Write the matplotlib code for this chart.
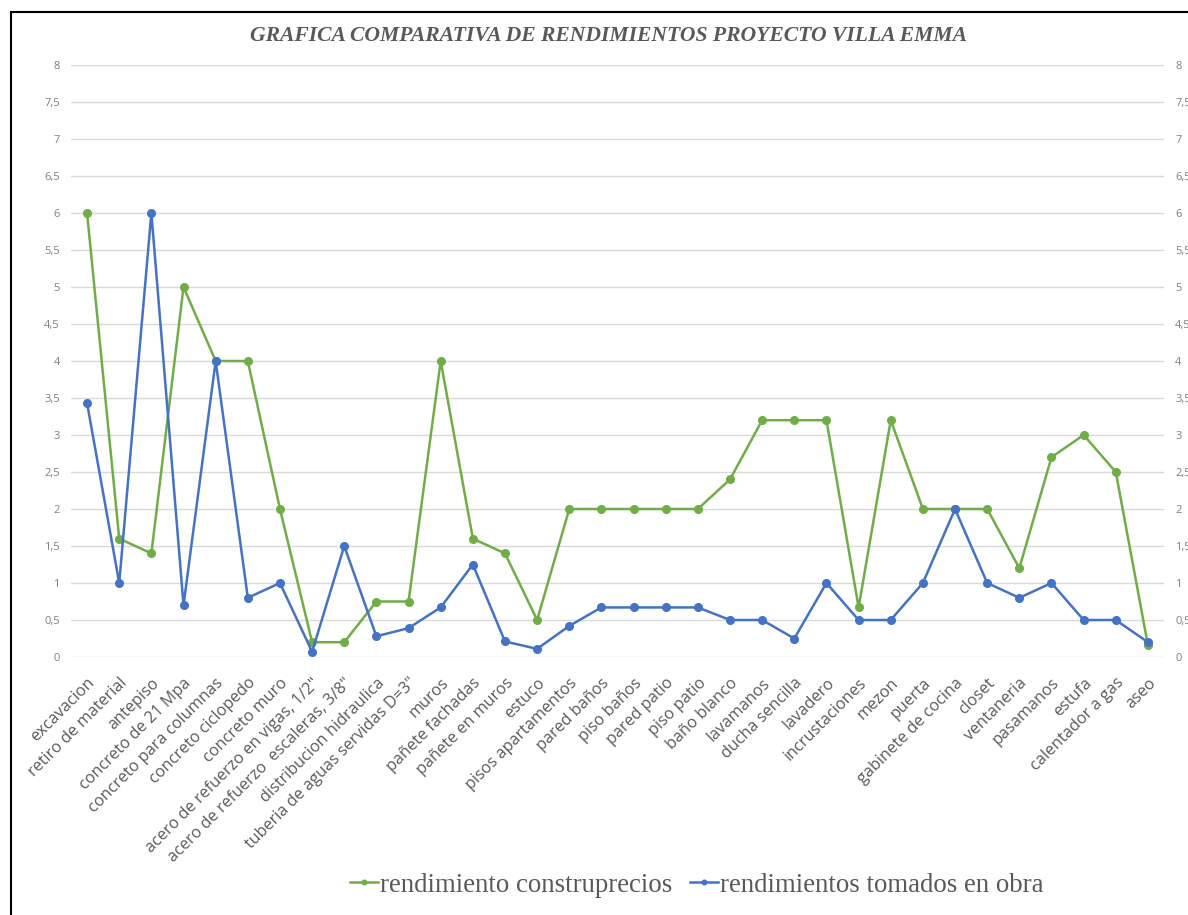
import matplotlib.pyplot as plt
from matplotlib.patches import Rectangle
from matplotlib.ticker import FuncFormatter, MultipleLocator
import numpy as np

actividades = [
    'excavacion', 'retiro de material', 'antepiso', 'concreto de 21 Mpa',
    'concreto para columnas', 'concreto ciclopedo', 'concreto muro',
    'acero de refuerzo en vigas, 1/2"', 'acero de refuerzo  escaleras, 3/8"',
    'distribucion hidraulica', 'tuberia de aguas servidas D=3"', 'muros',
    'pañete fachadas', 'pañete en muros', 'estuco', 'pisos apartamentos',
    'pared baños', 'piso baños', 'pared patio', 'piso patio', 'baño blanco',
    'lavamanos', 'ducha sencilla', 'lavadero', 'incrustaciones', 'mezon',
    'puerta', 'gabinete de cocina', 'closet', 'ventaneria', 'pasamanos',
    'estufa', 'calentador a gas', 'aseo',
]

rend_construprecios = [
    6, 1.6, 1.4, 5, 4, 4, 2, 0.2, 0.2, 0.75, 0.75, 4, 1.6, 1.4, 0.5, 2,
    2, 2, 2, 2, 2.4, 3.2, 3.2, 3.2, 0.67, 3.2, 2, 2, 2, 1.2, 2.7, 3, 2.5, 0.16,
]

rend_obra = [
    3.43, 1, 6, 0.7, 4, 0.8, 1, 0.07, 1.5, 0.28, 0.39, 0.67, 1.25, 0.21, 0.11,
    0.42, 0.67, 0.67, 0.67, 0.67, 0.5, 0.5, 0.25, 1, 0.5, 0.5, 1, 2, 1, 0.8,
    1, 0.5, 0.5, 0.2,
]

verde = '#70AD47'
azul = '#4472C4'
W, H = 1188, 915

fig = plt.figure(figsize=(W / 100, H / 100), dpi=100)
fig.patch.set_facecolor('white')

# marco negro del grafico (se sale por la derecha y por abajo)
fig.patches.append(Rectangle((10.5 / W, -0.1), 1.2, 1.1 - 12.5 / H,
                             transform=fig.transFigure, fill=False,
                             edgecolor='black', linewidth=1.5))

ax = fig.add_axes([71 / W, (H - 657) / H, (1164 - 71) / W, (657 - 65) / H])
x = np.arange(len(actividades))

ax.plot(x, rend_construprecios, color=verde, lw=1.8, marker='o', ms=5.5,
        label='rendimiento construprecios', zorder=3)
ax.plot(x, rend_obra, color=azul, lw=1.8, marker='o', ms=5.5,
        label='rendimientos tomados en obra', zorder=3)

ax.set_xlim(-0.5, len(actividades) - 0.5)
ax.set_ylim(0, 8)
ax.yaxis.set_major_locator(MultipleLocator(0.5))
coma = FuncFormatter(lambda v, p: ('%g' % v).replace('.', ','))
ax.yaxis.set_major_formatter(coma)
ax.grid(axis='y', color='#D9D9D9', lw=1)
ax.set_axisbelow(True)
for s in ax.spines.values():
    s.set_visible(False)

ax.set_xticks(x)
ax.set_xticklabels(actividades, rotation=45, ha='right', rotation_mode='anchor',
                   fontsize=11.7, color='#595959', family='Open Sans')
ax.tick_params(axis='x', length=0, pad=13)
ax.tick_params(axis='y', length=0, pad=8, labelsize=8, labelcolor='#7F7F7F')
for t in ax.get_yticklabels():
    t.set_family('Open Sans')

# eje secundario con la misma escala
ax2 = ax.twinx()
ax2.set_ylim(0, 8)
ax2.yaxis.set_major_locator(MultipleLocator(0.5))
ax2.yaxis.set_major_formatter(coma)
ax2.tick_params(axis='y', length=0, pad=8, labelsize=8, labelcolor='#7F7F7F')
for t in ax2.get_yticklabels():
    t.set_family('Open Sans')
for s in ax2.spines.values():
    s.set_visible(False)

fig.text(608 / W, 1 - 36 / H, 'GRAFICA COMPARATIVA DE RENDIMIENTOS PROYECTO VILLA EMMA',
         ha='center', va='center', fontsize=15.6, fontweight='bold',
         fontstyle='italic', family='Liberation Serif', color='#595959')

fig.legend(loc='center', bbox_to_anchor=(697 / W, 1 - 885 / H), ncol=2,
           frameon=False, prop={'family': 'Liberation Serif', 'size': 19.3},
           labelcolor='#595959', handlelength=1.05, markerscale=0.6,
           columnspacing=0.65, handletextpad=0.08)

fig.savefig('out.png', dpi=100)
